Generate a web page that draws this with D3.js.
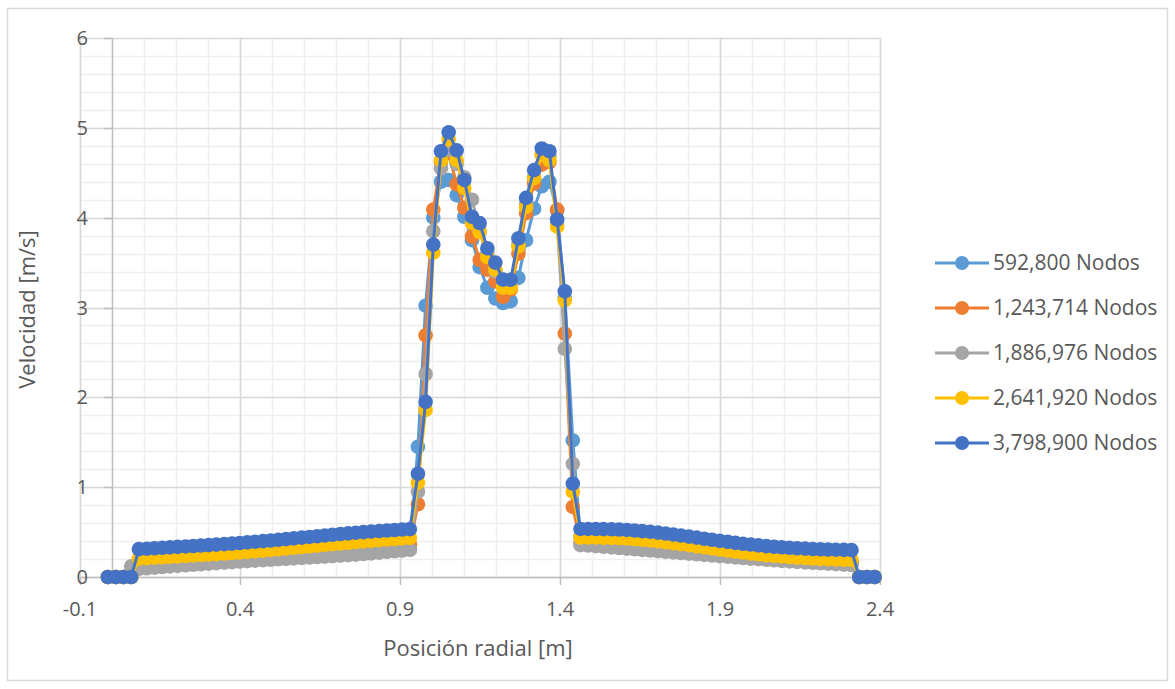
<!DOCTYPE html>
<html><head><meta charset="utf-8">
<script src="https://cdn.jsdelivr.net/npm/d3@7"></script>
<style>body{margin:0;background:#fff}text{font-family:"Open Sans",sans-serif;fill:#595959}</style>
</head><body>
<svg id="c" width="1175" height="689"></svg>
<script>
const xPos = [-0.013, 0.012, 0.036, 0.060, 0.084, 0.109, 0.133, 0.157, 0.181, 0.205,
 0.230, 0.254, 0.278, 0.302, 0.326, 0.351, 0.375, 0.399, 0.423, 0.447,
 0.472, 0.496, 0.520, 0.544, 0.568, 0.593, 0.617, 0.641, 0.665, 0.689,
 0.714, 0.738, 0.762, 0.786, 0.810, 0.835, 0.859, 0.883, 0.907, 0.931,
 0.956, 0.980, 1.004, 1.028, 1.052, 1.077, 1.101, 1.125, 1.149, 1.173,
 1.198, 1.222, 1.246, 1.270, 1.294, 1.319, 1.343, 1.367, 1.391, 1.415,
 1.440, 1.464, 1.488, 1.512, 1.536, 1.561, 1.585, 1.609, 1.633, 1.657,
 1.682, 1.706, 1.730, 1.754, 1.778, 1.803, 1.827, 1.851, 1.875, 1.899,
 1.924, 1.948, 1.972, 1.996, 2.020, 2.045, 2.069, 2.093, 2.117, 2.141,
 2.166, 2.190, 2.214, 2.238, 2.262, 2.287, 2.311, 2.335, 2.359, 2.383];

const seriesNames = ["592,800 Nodos", "1,243,714 Nodos", "1,886,976 Nodos", "2,641,920 Nodos", "3,798,900 Nodos"];
const seriesColors = ["#5B9BD5", "#ED7D31", "#A5A5A5", "#FFC000", "#4472C4"];

const v592800 = [0, 0, 0, 0, 0.130, 0.133, 0.136, 0.140, 0.144, 0.148,
 0.152, 0.156, 0.160, 0.165, 0.170, 0.175, 0.180, 0.185, 0.190, 0.195,
 0.200, 0.205, 0.210, 0.216, 0.222, 0.228, 0.234, 0.240, 0.246, 0.252,
 0.258, 0.264, 0.270, 0.276, 0.282, 0.288, 0.294, 0.299, 0.304, 0.310,
 1.45, 3.02, 4.00, 4.40, 4.42, 4.25, 4.01, 3.75, 3.45, 3.22,
 3.10, 3.05, 3.07, 3.33, 3.75, 4.10, 4.35, 4.40, 4.08, 3.10,
 1.52, 0.450, 0.400, 0.370, 0.365, 0.360, 0.355, 0.350, 0.344, 0.338,
 0.331, 0.324, 0.317, 0.309, 0.301, 0.293, 0.285, 0.277, 0.269, 0.261,
 0.253, 0.245, 0.237, 0.230, 0.223, 0.216, 0.209, 0.203, 0.197, 0.191,
 0.186, 0.181, 0.176, 0.172, 0.168, 0.164, 0.160, 0, 0, 0];

const v1243714 = [0, 0, 0, 0, 0.150, 0.153, 0.156, 0.160, 0.164, 0.168,
 0.172, 0.176, 0.180, 0.185, 0.190, 0.195, 0.200, 0.205, 0.210, 0.216,
 0.222, 0.228, 0.234, 0.240, 0.247, 0.254, 0.261, 0.268, 0.275, 0.283,
 0.291, 0.299, 0.307, 0.315, 0.323, 0.331, 0.339, 0.346, 0.353, 0.360,
 0.81, 2.69, 4.09, 4.62, 4.72, 4.37, 4.11, 3.79, 3.53, 3.42,
 3.29, 3.12, 3.20, 3.60, 4.05, 4.38, 4.59, 4.62, 4.09, 2.71,
 0.78, 0.380, 0.380, 0.379, 0.377, 0.374, 0.370, 0.366, 0.361, 0.355,
 0.348, 0.341, 0.333, 0.325, 0.316, 0.307, 0.298, 0.289, 0.280, 0.271,
 0.262, 0.253, 0.244, 0.236, 0.228, 0.220, 0.213, 0.206, 0.200, 0.194,
 0.188, 0.183, 0.178, 0.174, 0.170, 0.166, 0.163, 0, 0, 0];

const v1886976 = [0, 0, 0, 0.120, 0.090, 0.097, 0.104, 0.111, 0.118, 0.124,
 0.130, 0.136, 0.142, 0.148, 0.154, 0.160, 0.166, 0.172, 0.177, 0.182,
 0.187, 0.192, 0.197, 0.202, 0.207, 0.212, 0.217, 0.222, 0.227, 0.232,
 0.237, 0.243, 0.249, 0.256, 0.263, 0.271, 0.279, 0.287, 0.295, 0.303,
 0.95, 2.26, 3.85, 4.55, 4.75, 4.60, 4.45, 4.20, 3.85, 3.60,
 3.40, 3.25, 3.25, 3.70, 4.15, 4.45, 4.70, 4.68, 3.95, 2.54,
 1.26, 0.355, 0.350, 0.344, 0.337, 0.330, 0.323, 0.316, 0.309, 0.302,
 0.295, 0.288, 0.281, 0.274, 0.267, 0.260, 0.253, 0.246, 0.239, 0.232,
 0.225, 0.218, 0.211, 0.204, 0.198, 0.192, 0.186, 0.180, 0.174, 0.168,
 0.163, 0.158, 0.153, 0.148, 0.143, 0.138, 0.133, 0, 0, 0];

const v2641920 = [0, 0, 0, 0, 0.205, 0.210, 0.215, 0.220, 0.225, 0.230,
 0.235, 0.240, 0.245, 0.250, 0.255, 0.261, 0.267, 0.273, 0.280, 0.287,
 0.294, 0.301, 0.309, 0.317, 0.325, 0.333, 0.341, 0.349, 0.357, 0.365,
 0.373, 0.381, 0.389, 0.396, 0.403, 0.410, 0.417, 0.423, 0.429, 0.435,
 1.05, 1.86, 3.61, 4.64, 4.87, 4.64, 4.33, 3.94, 3.84, 3.56,
 3.42, 3.22, 3.22, 3.68, 4.12, 4.44, 4.70, 4.64, 3.90, 3.08,
 0.95, 0.440, 0.440, 0.439, 0.437, 0.435, 0.432, 0.428, 0.422, 0.415,
 0.407, 0.398, 0.388, 0.377, 0.366, 0.354, 0.342, 0.330, 0.318, 0.306,
 0.294, 0.283, 0.272, 0.262, 0.253, 0.244, 0.236, 0.229, 0.222, 0.216,
 0.211, 0.206, 0.202, 0.198, 0.195, 0.192, 0.190, 0, 0, 0];

const v3798900 = [0, 0, 0, 0, 0.310, 0.315, 0.320, 0.325, 0.330, 0.335,
 0.340, 0.345, 0.350, 0.355, 0.360, 0.366, 0.372, 0.378, 0.385, 0.392,
 0.399, 0.406, 0.414, 0.422, 0.430, 0.438, 0.446, 0.454, 0.462, 0.470,
 0.478, 0.486, 0.493, 0.500, 0.506, 0.512, 0.518, 0.523, 0.528, 0.533,
 1.15, 1.95, 3.70, 4.74, 4.95, 4.75, 4.42, 4.01, 3.94, 3.66,
 3.50, 3.31, 3.31, 3.77, 4.22, 4.53, 4.77, 4.74, 3.98, 3.18,
 1.04, 0.535, 0.535, 0.534, 0.533, 0.531, 0.528, 0.524, 0.518, 0.511,
 0.503, 0.494, 0.484, 0.473, 0.462, 0.450, 0.438, 0.426, 0.414, 0.402,
 0.391, 0.380, 0.370, 0.361, 0.352, 0.344, 0.337, 0.331, 0.325, 0.320,
 0.316, 0.312, 0.309, 0.306, 0.304, 0.302, 0.300, 0, 0, 0];

const xTicks = [-0.1, 0.4, 0.9, 1.4, 1.9, 2.4];
const xTickLabels = ["-0.1", "0.4", "0.9", "1.4", "1.9", "2.4"];
const yTicks = [0, 1, 2, 3, 4, 5, 6];
const xLabel = "Posición radial [m]";
const yLabel = "Velocidad [m/s]";

const seriesValues = [v592800, v1243714, v1886976, v2641920, v3798900];

const svg = d3.select("#c");
svg.append("rect").attr("width",1175).attr("height",689).attr("fill","#fff");
svg.append("rect").attr("x",7.5).attr("y",8.5).attr("width",1160).attr("height",672)
  .attr("fill","none").attr("stroke","#D9D9D9").attr("stroke-width",1.5);

const L=80, R=880, T=38, B=577;
const x = d3.scaleLinear().domain([-0.1,2.4]).range([L,R]);
const y = d3.scaleLinear().domain([0,6]).range([B,T]);

const g = svg.append("g");
const minorX = d3.range(0,26).map(i=>-0.1+i*0.1);
const minorY = d3.range(0,31).map(i=>i*0.2);
g.selectAll(".mx").data(minorX).join("line")
  .attr("x1",d=>Math.round(x(d))+0.5).attr("x2",d=>Math.round(x(d))+0.5).attr("y1",T).attr("y2",B)
  .attr("stroke","#EFEFEF").attr("stroke-width",1.5);
g.selectAll(".my").data(minorY).join("line")
  .attr("y1",d=>Math.round(y(d))+0.5).attr("y2",d=>Math.round(y(d))+0.5).attr("x1",L).attr("x2",R)
  .attr("stroke","#EFEFEF").attr("stroke-width",1.5);
g.selectAll(".Mx").data(xTicks).join("line")
  .attr("x1",d=>Math.round(x(d))+0.5).attr("x2",d=>Math.round(x(d))+0.5).attr("y1",T).attr("y2",B)
  .attr("stroke","#D9D9D9").attr("stroke-width",1.5);
g.selectAll(".My").data(yTicks).join("line")
  .attr("y1",d=>Math.round(y(d))+0.5).attr("y2",d=>Math.round(y(d))+0.5).attr("x1",L).attr("x2",R)
  .attr("stroke","#D9D9D9").attr("stroke-width",1.5);

const axisColor = "#BFBFBF";
g.append("line").attr("x1",Math.round(x(0))+0.5).attr("x2",Math.round(x(0))+0.5).attr("y1",T).attr("y2",B)
  .attr("stroke",axisColor).attr("stroke-width",1.5);
g.append("line").attr("x1",L).attr("x2",R).attr("y1",B+0.5).attr("y2",B+0.5)
  .attr("stroke",axisColor).attr("stroke-width",1.5);
g.selectAll(".ty").data(yTicks).join("line")
  .attr("x1",x(0)-8).attr("x2",x(0)).attr("y1",d=>Math.round(y(d))+0.5).attr("y2",d=>Math.round(y(d))+0.5)
  .attr("stroke",axisColor).attr("stroke-width",1.5);
g.selectAll(".tx").data(xTicks).join("line")
  .attr("x1",d=>Math.round(x(d))+0.5).attr("x2",d=>Math.round(x(d))+0.5).attr("y1",B).attr("y2",B+8)
  .attr("stroke",axisColor).attr("stroke-width",1.5);

g.selectAll(".ly").data(yTicks).join("text")
  .attr("x",L+8).attr("y",d=>y(d)).attr("dy","0.35em").attr("text-anchor","end")
  .attr("font-size",20).text(d=>d);
g.selectAll(".lx").data(xTicks).join("text")
  .attr("x",d=>x(d)).attr("y",609).attr("dy","0.35em").attr("text-anchor","middle")
  .attr("font-size",20).text((d,i)=>xTickLabels[i]);

svg.append("text").attr("x",(L+R)/2 - 2).attr("y",648).attr("dy","0.35em").attr("text-anchor","middle")
  .attr("font-size",22).text(xLabel);
svg.append("text").attr("transform",`translate(27,${(T+B)/2 + 2}) rotate(-90)`).attr("dy","0.35em")
  .attr("text-anchor","middle").attr("font-size",22).text(yLabel);

const line = d3.line().x((d,i)=>x(xPos[i])).y(d=>y(d));
seriesValues.forEach((vals,k)=>{
  const sg = svg.append("g");
  sg.append("path").datum(vals).attr("d",line).attr("fill","none")
    .attr("stroke",seriesColors[k]).attr("stroke-width",3).attr("stroke-linejoin","round");
  sg.selectAll("circle").data(vals).join("circle")
    .attr("cx",(d,i)=>x(xPos[i])).attr("cy",d=>y(d)).attr("r",7.3).attr("fill",seriesColors[k]);
});

const lg = svg.append("g");
seriesNames.forEach((n,k)=>{
  const yy = 263 + k*45;
  lg.append("line").attr("x1",935).attr("x2",989).attr("y1",yy).attr("y2",yy)
    .attr("stroke",seriesColors[k]).attr("stroke-width",3);
  lg.append("circle").attr("cx",962).attr("cy",yy).attr("r",7).attr("fill",seriesColors[k]);
  lg.append("text").attr("x",993).attr("y",yy).attr("dy","0.35em").attr("font-size",21).text(n);
});
</script>
</body></html>
